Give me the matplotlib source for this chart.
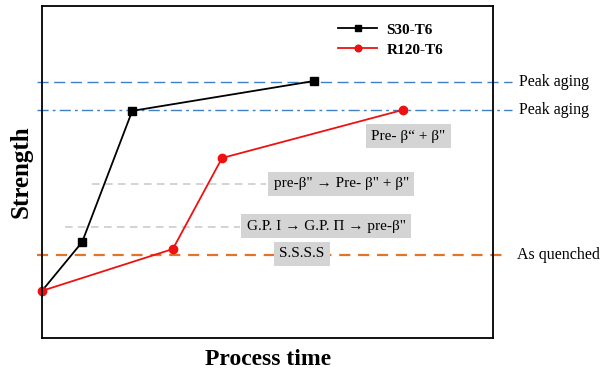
import matplotlib.pyplot as plt

plt.rcParams['font.family'] = ['Liberation Serif', 'DejaVu Serif']

# process stages (arbitrary units, 0-100)
s30_x = [0, 8.9, 20.0, 60.3]
s30_y = [14.2, 28.9, 68.4, 77.4]
r120_x = [0, 29.0, 39.9, 80.0]
r120_y = [14.2, 26.8, 54.2, 68.7]

peak_s30 = 77.1
peak_r120 = 68.7
quenched = 25.0
gray_levels = [46.4, 33.4]
gray_starts = [11.1, 5.1]
gray_ends = [49.7, 43.9]

box_texts = ['Pre- β“ + β"', 'pre-β" → Pre- β" + β"', 'G.P. I → G.P. Π → pre-β"', 'S.S.S.S']
box_x = [81.2, 66.3, 63.0, 57.6]
box_y = [60.8, 46.4, 33.7, 25.3]

fig = plt.figure(figsize=(6, 3.72), dpi=100)
ax = fig.add_axes([0.07, 0.0914, 0.752, 0.8926])
ax.set_xlim(0, 100)
ax.set_ylim(0, 100)

# reference levels
ax.plot([-1.1, 104.2], [peak_s30, peak_s30], color='#3f7fc4', lw=1, dashes=(8, 4), clip_on=False)
ax.plot([-1.1, 104.2], [peak_r120, peak_r120], color='#3f7fc4', lw=1, dashes=(8, 3, 2, 3), clip_on=False)
ax.plot([-1.1, 103.5], [quenched, quenched], color='#e07428', lw=1.6, dashes=(5, 3.5), clip_on=False)
for lv, x0, x1 in zip(gray_levels, gray_starts, gray_ends):
    ax.plot([x0, x1], [lv, lv], color='#c8c8c8', lw=1.1, dashes=(5, 3.5))

ax.plot(s30_x, s30_y, color='black', lw=1.3, marker='s', ms=5.5, markevery=[1, 2, 3], label='S30-T6', clip_on=False)
ax.plot(r120_x, r120_y, color='#ee1111', lw=1.3, marker='o', ms=6, label='R120-T6', clip_on=False)

for t, x, y in zip(box_texts, box_x, box_y):
    ax.text(x, y, t, ha='center', va='center', fontsize=11,
            bbox=dict(boxstyle='square,pad=0.35', fc='#d4d4d4', ec='none'))

ax.text(105.8, peak_s30, 'Peak aging', ha='left', va='center', fontsize=11.5, clip_on=False)
ax.text(105.8, peak_r120, 'Peak aging', ha='left', va='center', fontsize=11.5, clip_on=False)
ax.text(105.3, quenched, 'As quenched', ha='left', va='center', fontsize=11.5, clip_on=False)

ax.legend(loc='upper left', bbox_to_anchor=(0.625, 0.99), frameon=False,
          prop={'weight': 'bold', 'size': 11}, handlelength=2.6, handletextpad=0.6,
          labelspacing=0.4, markerscale=0.8)

ax.set_xticks([])
ax.set_yticks([])
for s in ax.spines.values():
    s.set_linewidth(1.3)
ax.set_xlabel('Process time', fontsize=17, fontweight='bold', labelpad=8)
ax.set_ylabel('Strength', fontsize=18, fontweight='bold', labelpad=7)

fig.savefig('out.png', dpi=100)
